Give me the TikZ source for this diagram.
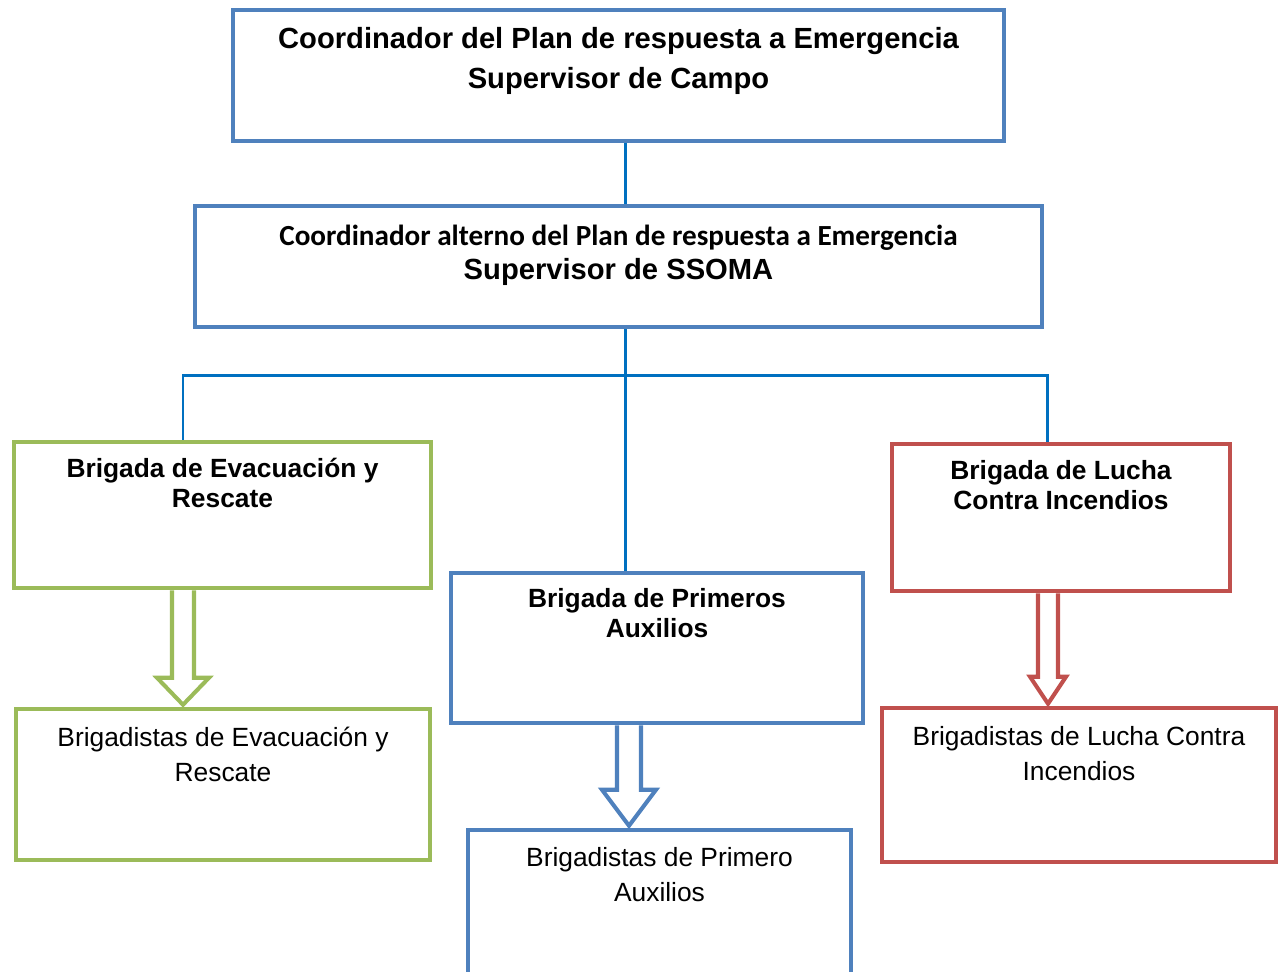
\documentclass[tikz,border=0pt]{standalone}
\usepackage{fontspec}
\setmainfont{Liberation Sans}
\newfontfamily\calibri{Carlito}
\usetikzlibrary{positioning, calc}
\definecolor{boxblue}{RGB}{79,129,189}
\definecolor{boxgreen}{RGB}{155,187,89}
\definecolor{boxred}{RGB}{192,80,77}
\definecolor{linkblue}{RGB}{0,112,192}
\tikzstyle{orgbox}  = [rectangle, draw=boxblue, line width=2.6pt, inner sep=0pt]
\tikzstyle{bigtitle} = [anchor=north, align=center, inner sep=0pt,
                        font=\fontsize{16.6pt}{22.7pt}\selectfont\bfseries]
\tikzstyle{alttitle} = [anchor=north, align=center, inner sep=0pt,
                        font=\fontsize{16.6pt}{19.3pt}\selectfont\bfseries]
\tikzstyle{brigtitle} = [anchor=north, align=center, inner sep=0pt,
                         font=\fontsize{15pt}{17pt}\selectfont\bfseries]
\tikzstyle{membtitle} = [anchor=north, align=center, inner sep=0pt,
                         font=\fontsize{15pt}{19.9pt}\selectfont]
\tikzstyle{link}    = [draw=linkblue, line width=1.7pt]
\tikzstyle{hollow}  = [line width=2.3pt, line join=miter]

\begin{document}
\begin{tikzpicture}[x=0.02cm, y=-0.02cm]
  \clip (0,0) rectangle (1281,971);

  \node (coord) [orgbox, minimum width=15.42cm, minimum height=2.62cm] at (618.5,75.5) {};
  \node [bigtitle] at ($(coord.north)+(0,19)$)
        {Coordinador del Plan de respuesta a Emergencia\\Supervisor de Campo};

  \node (alt) [orgbox, minimum width=16.94cm, minimum height=2.42cm] at (618.5,266.5) {};
  \node [alttitle] at ($(alt.north)+(0,21)$)
        {{\calibri Coordinador alterno del Plan de respuesta a Emergencia}\\Supervisor de SSOMA};

  \node (evac)  [orgbox, draw=boxgreen, minimum width=8.34cm, minimum height=2.92cm] at (222.5,515) {};
  \node [brigtitle] at ($(evac.north)+(0,18)$) {Brigada de Evacuación y\\Rescate};

  \node (lucha) [orgbox, draw=boxred, minimum width=6.76cm, minimum height=2.94cm] at (1061,517.5) {};
  \node [brigtitle] at ($(lucha.north)+(0,18)$) {Brigada de Lucha\\Contra Incendios};

  \node (prim)  [orgbox, minimum width=8.24cm, minimum height=3.0cm] at (657,648) {};
  \node [brigtitle] at ($(prim.north)+(0,17)$) {Brigada de Primeros\\Auxilios};

  \node (evacB)  [orgbox, draw=boxgreen, minimum width=8.28cm, minimum height=3.02cm] at (223,784.5) {};
  \node [membtitle] at ($(evacB.north)+(0,20)$) {Brigadistas de Evacuación y\\Rescate};

  \node (luchaB) [orgbox, draw=boxred, minimum width=7.88cm, minimum height=3.08cm] at (1079,785) {};
  \node [membtitle] at ($(luchaB.north)+(0,20)$) {Brigadistas de Lucha Contra\\Incendios};

  \node (primB)  [orgbox, minimum width=7.66cm, minimum height=3.6cm] at (659.5,920) {};
  \node [membtitle] at ($(primB.north)+(0,19)$) {Brigadistas de Primero\\Auxilios};

  % tree of links
  \coordinate (trunk) at (625,0);
  \coordinate (barL) at (183,375);
  \coordinate (barR) at (1047,375);
  \draw [link] (coord.south -| trunk) -- (alt.north -| trunk);
  \draw [link] (alt.south -| trunk) -- (prim.north -| trunk);
  \draw [link] (evac.north -| barL) -- (barL) -- (barR) -- (lucha.north -| barR);

  % block arrows
  \coordinate (ga) at (183,0);
  \coordinate (ba) at (629,0);
  \coordinate (ra) at (1048,0);
  \coordinate (gtop) at (evac.south -| ga);   \coordinate (gbot) at (evacB.north -| ga);
  \coordinate (btop) at (prim.south -| ba);   \coordinate (bbot) at (primB.north -| ba);
  \coordinate (rtop) at (lucha.south -| ra);  \coordinate (rbot) at (luchaB.north -| ra);
  \draw [hollow, draw=boxgreen] ($(gtop)+(-11,0)$) -- ($(gbot)+(-11,-29)$) -- ($(gbot)+(-26,-29)$)
        -- ($(gbot)+(0,-2)$) -- ($(gbot)+(26,-29)$) -- ($(gbot)+(11,-29)$) -- ($(gtop)+(11,0)$);
  \draw [hollow, draw=boxblue] ($(btop)+(-12,0)$) -- ($(bbot)+(-12,-38)$) -- ($(bbot)+(-27,-38)$)
        -- ($(bbot)+(0,-2)$) -- ($(bbot)+(27,-38)$) -- ($(bbot)+(12,-38)$) -- ($(btop)+(12,0)$);
  \draw [hollow, draw=boxred] ($(rtop)+(-10,0)$) -- ($(rbot)+(-10,-29)$) -- ($(rbot)+(-18,-29)$)
        -- ($(rbot)+(0,-2)$) -- ($(rbot)+(18,-29)$) -- ($(rbot)+(10,-29)$) -- ($(rtop)+(10,0)$);
\end{tikzpicture}
\end{document}
